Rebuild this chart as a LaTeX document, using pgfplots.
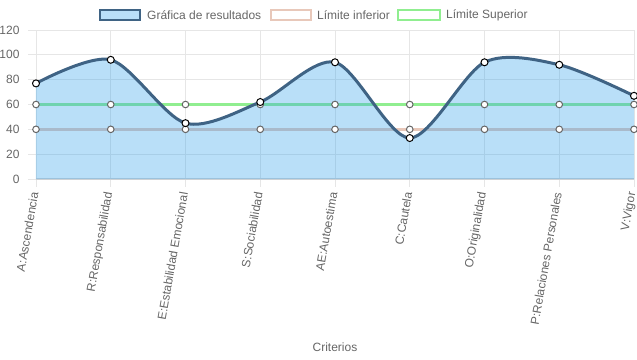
\documentclass[border=0pt]{standalone}
\usepackage{pgfplots}
\pgfplotsset{compat=1.18}
\usepackage{fontspec}
\setmainfont{Liberation Sans}
\definecolor{txt}{HTML}{666666}
\definecolor{fillblue}{RGB}{54,162,235}
\definecolor{mainline}{HTML}{3F6384}
\definecolor{lowline}{HTML}{E8C8BA}
\definecolor{upline}{HTML}{90EE90}
\definecolor{gridc}{HTML}{E6E6E6}
\begin{document}
\begin{tikzpicture}
\begin{axis}[
  name=ax,
  scale only axis,
  width=598bp, height=149bp,
  xmin=0, xmax=8, ymin=0, ymax=120,
  clip=false,
  axis line style={draw=none},
  xtick={0,...,8},
  xticklabels={A:Ascendencia,R:Responsabilidad,E:Estabilidad Emocional,S:Sociabilidad,AE:Autoestima,C:Cautela,O:Originalidad,P:Relaciones Personales,V:Vigor},
  ytick={0,20,...,120},
  grid=both,
  major grid style={draw=gridc, line width=0.8bp},
  tick style={draw=gridc, line width=0.8bp},
  major tick length=8bp,
  tick align=outside,
  xtick pos=bottom, ytick pos=left,
  /pgf/number format/assume math mode=true,
  every tick label/.append style={font=\fontsize{12bp}{14bp}\selectfont, text=txt},
  yticklabel style={anchor=east, xshift=-5bp},
  xticklabel style={xshift=-1bp, yshift=-2bp, rotate=80, anchor=east},
  xlabel={Criterios},
  xlabel style={font=\fontsize{12bp}{14bp}\selectfont, text=txt, at={(0.5,0)}, anchor=base, yshift=-172bp},
]
% zero line
\draw[draw=gridc!80!black!60, line width=1.5bp] (axis cs:0,0) -- (axis cs:8,0);
% limits
\addplot[color=lowline, line width=3bp, mark=*, mark size=3.3bp, mark options={fill=white, draw=txt, line width=1bp}]
  coordinates {(0,40)(1,40)(2,40)(3,40)(4,40)(5,40)(6,40)(7,40)(8,40)};
\addplot[color=upline, line width=3bp, mark=*, mark size=3.3bp, mark options={fill=white, draw=txt, line width=1bp}]
  coordinates {(0,60)(1,60)(2,60)(3,60)(4,60)(5,60)(6,60)(7,60)(8,60)};
% main fill
\addplot[draw=none, fill=fillblue, fill opacity=0.35, smooth, tension=0.5]
  coordinates {(0,77)(1,96)(2,45)(3,62)(4,94)(5,33)(6,94)(7,92)(8,67)} \closedcycle;
% main line
\addplot[color=mainline, line width=3bp, smooth, tension=0.5, mark=*, mark size=3.5bp, mark options={fill=white, draw=black, line width=1bp}]
  coordinates {(0,77)(1,96)(2,45)(3,62)(4,94)(5,33)(6,94)(7,92)(8,67)};
\end{axis}
\begin{scope}[shift={([xshift=-36bp,yshift=179bp]ax.south west)}, x=1bp, y=-1bp]
  \filldraw[fill=fillblue!35, draw=mainline, line width=2.5bp] (100,10) rectangle (140,20);
  \node[anchor=west, inner sep=0pt, text=txt, font=\fontsize{12bp}{14bp}\selectfont] at (147,15) {Gráfica de resultados};
  \filldraw[fill=white, draw=lowline, line width=2.5bp] (271,10) rectangle (311,20);
  \node[anchor=west, inner sep=0pt, text=txt, font=\fontsize{12bp}{14bp}\selectfont] at (317,15) {Límite inferior};
  \filldraw[fill=white, draw=upline, line width=2.5bp] (398,10) rectangle (440,20);
  \node[anchor=west, inner sep=0pt, text=txt, font=\fontsize{12bp}{14bp}\selectfont] at (446,15) {Límite Superior};
  \pgfresetboundingbox
  \path[use as bounding box] (0,0) rectangle (637,359);
\end{scope}
\end{tikzpicture}
\end{document}
